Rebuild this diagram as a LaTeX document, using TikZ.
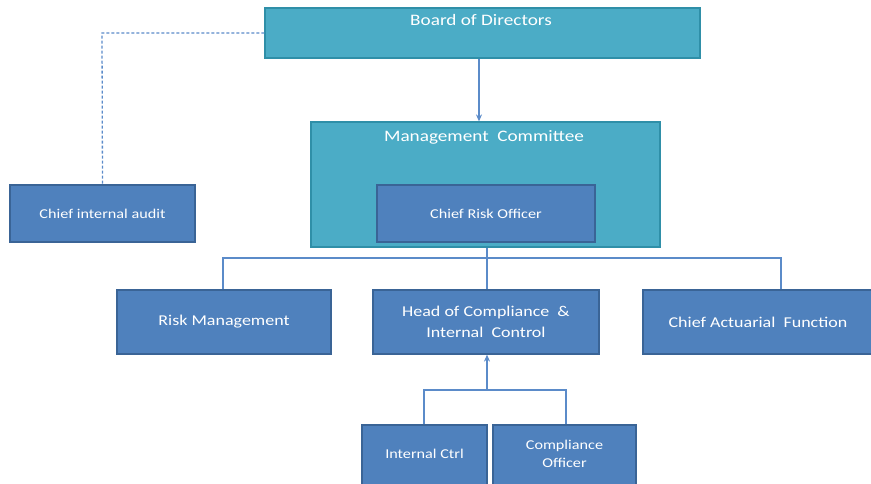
\documentclass[tikz,border=0pt]{standalone}
\usepackage{fontspec}
\setmainfont{Carlito}
\newfontfamily\widefont[FakeStretch=1.2]{Carlito}
\usetikzlibrary{arrows.meta}
\definecolor{teal1}{HTML}{4BACC6}
\definecolor{teal2}{HTML}{2F8FA8}
\definecolor{blue1}{HTML}{4F81BD}
\definecolor{blue2}{HTML}{3A6496}
\definecolor{line1}{HTML}{5B8BC9}
\tikzset{
  tealbox/.style={draw=teal2, fill=teal1, line width=1.2pt, inner sep=0pt},
  bluebox/.style={draw=blue2, fill=blue1, line width=1.2pt, text=white, align=center, inner sep=0pt, font=\widefont\fontsize{15}{18}\selectfont},
  smalltext/.style={font=\widefont\fontsize{13.5}{16}\selectfont},
  toptext/.style={text=white, font=\widefont\fontsize{16}{18}\selectfont},
  conn/.style={draw=line1, line width=1.6pt},
  arr/.style={conn, -{Stealth[length=7pt,width=6pt]}},
}
\begin{document}
\begin{tikzpicture}[x=1pt,y=-1pt]
\useasboundingbox (0,0) rectangle (871,483);
% top level
\node[tealbox, minimum width=435, minimum height=50] (board) at (482.5,33) {};
\node[toptext] (boardt) at (481,20) {Board of Directors};
\node[tealbox, minimum width=349, minimum height=125] (mc) at (485.5,184.5) {};
\node[toptext] (mct) at (484,137) {Management\ \ Committee};
\node[bluebox, smalltext, minimum width=218, minimum height=57] (cro) at (486,213.5) {Chief Risk Officer};
\node[bluebox, smalltext, minimum width=185, minimum height=57] (cia) at (102.5,213.5) {Chief internal audit};
% second level
\node[bluebox, minimum width=214, minimum height=64] (rm) at (224,322) {Risk Management};
\node[bluebox, minimum width=226, minimum height=64] (hc) at (486,322) {Head of Compliance\ \ \&\\[3pt]Internal\ \ Control};
\node[bluebox, minimum width=230, minimum height=64] (caf) at (758,322) {Chief Actuarial\ \ Function};
% third level (boxes run past the lower edge)
\node[bluebox, smalltext, minimum width=125, minimum height=70,
  label={[smalltext, text=white, yshift=6pt]center:Internal Ctrl}] (ic) at (424.5,460) {};
\node[bluebox, smalltext, minimum width=143, minimum height=70,
  label={[smalltext, text=white, align=center, yshift=6pt]center:Compliance\\[2pt]Officer}] (co) at (564.5,460) {};
% connectors
\coordinate (dcorner) at (102,33);
\draw[draw=line1, line width=1.3pt, dashed, dash pattern=on 3pt off 2pt] (board.west |- 0,33) -- (dcorner) -- (cia.north);
\draw[arr] (board.south -| 479,0) -- (mc.north -| 479,0);
\coordinate (bus) at (487,258);
\draw[conn] (mc.south -| bus) -- (bus);
\draw[conn] (rm.north) ++(-1,0) |- (bus) -| (caf.north -| 781,0);
\draw[conn] (bus) -- (hc.north -| bus);
\coordinate (bus2) at (487,390);
\draw[arr] (bus2) -- (hc.south -| bus2);
\draw[conn] (ic.north -| 424,0) |- (bus2) -| (co.north -| 566,0);
\end{tikzpicture}
\end{document}
